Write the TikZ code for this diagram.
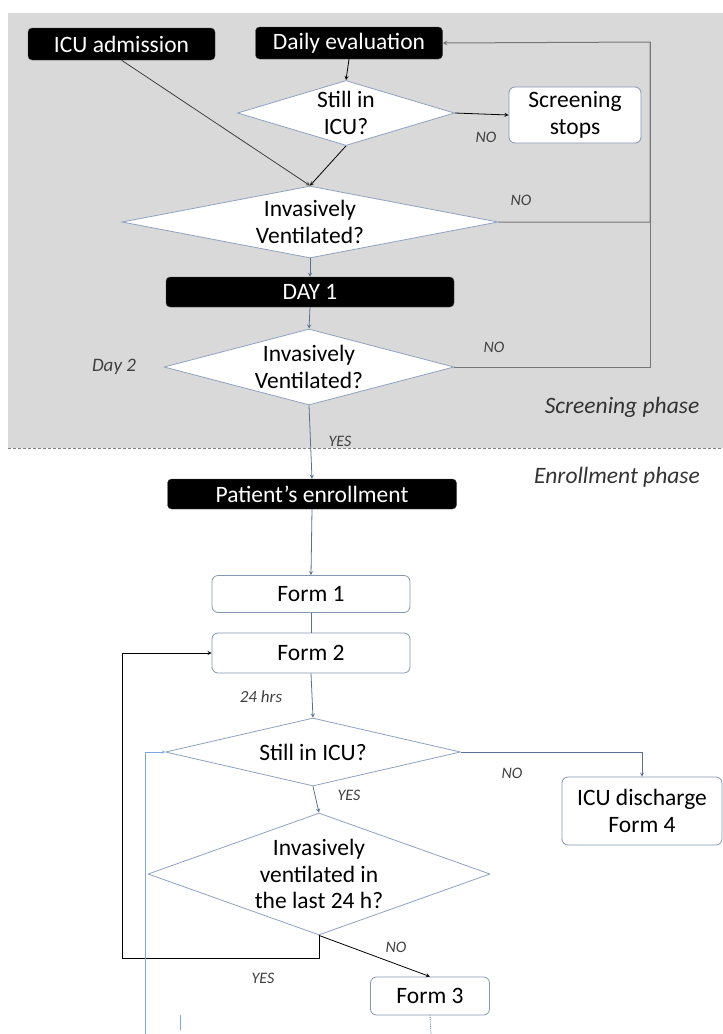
\documentclass[tikz,border=0pt]{standalone}
\usepackage{fontspec}
\setmainfont{Carlito}
\usetikzlibrary{shapes.geometric, arrows, positioning}
\definecolor{panelgrey}{RGB}{217,217,217}
\definecolor{edgeblue}{RGB}{142,162,192}
\definecolor{boxblue}{RGB}{132,151,176}
\definecolor{flowblue}{RGB}{91,112,144}
\definecolor{loopgrey}{RGB}{118,118,118}
\definecolor{tickblue}{RGB}{125,165,225}
\definecolor{labelgrey}{RGB}{64,64,64}

\begin{document}
\begin{tikzpicture}[
    x=1pt, y=-1pt,
    every node/.style={font=\fontsize{23.5}{26.5}\selectfont},
    blackbox/.style={rectangle, rounded corners=4pt, minimum height=32pt,
                     text centered, draw=gray!60!black, fill=black, text=white},
    formbox/.style={rectangle, rounded corners=6pt, align=center,
                    draw=boxblue, fill=white, line width=0.8pt},
    decision/.style={diamond, draw=edgeblue, fill=white, inner sep=-4pt,
                     align=center, line width=0.8pt},
    lbl/.style={font=\fontsize{16}{18}\selectfont\itshape, text=labelgrey},
    phaselbl/.style={font=\fontsize{23.5}{26.5}\selectfont\itshape, text=black!80},
    arrow/.style={->, >=stealth, line width=0.8pt},
    flow/.style={arrow, draw=flowblue},
    back/.style={arrow, draw=loopgrey, line width=1pt}
]
\useasboundingbox (0,0) rectangle (723,1034);

% Screening panel
\fill[panelgrey] (8,13) rectangle (723,448);
\draw[dash pattern=on 3pt off 2pt, gray] (8,448) -- (723,448);

% Screening phase
\node (admit) [blackbox, minimum width=187pt] at (121.5,44) {ICU admission};
\node (daily) [blackbox, minimum width=187pt] at (349,43) {Daily evaluation};
\node (still1) [decision, aspect=3.34, minimum width=217pt, minimum height=65pt] at (346,113) {Still in\\ICU?};
\node (stops) [formbox, minimum width=132pt, minimum height=56pt] at (575,115) {Screening\\stops};
\node (vent1) [decision, aspect=5.2, minimum width=376pt, minimum height=72pt] at (310,222) {Invasively\\Ventilated?};
\node (day1) [blackbox, minimum width=288pt, minimum height=30pt] at (310,292) {DAY 1};
\node (vent2) [decision, aspect=3.8, minimum width=290pt, minimum height=76pt] at (309,367) {Invasively\\Ventilated?};
\node (day2) [lbl, font=\fontsize{19}{22}\selectfont\itshape] at (114,367) {Day 2};
\node (scrphase) [phaselbl] at (622,407) {Screening phase};
\coordinate (fb) at (650,42);

% Enrollment phase
\node (enrphase) [phaselbl] at (617,477) {Enrollment phase};
\node (enrol) [blackbox, minimum width=289pt, minimum height=30pt] at (312,494) {Patient’s enrollment};
\node (form1) [formbox, minimum width=198pt, minimum height=37pt] at (311,594) {Form 1};
\node (form2) [formbox, minimum width=198pt, minimum height=40pt] at (311,653) {Form 2};
\node (still2) [decision, aspect=4.34, minimum width=295pt, minimum height=68pt] at (313,752) {Still in ICU?};
\node (disch) [formbox, minimum width=160pt, minimum height=68pt] at (642,811) {ICU discharge\\Form 4};
\node (vent3) [decision, aspect=2.8, minimum width=342pt, minimum height=122pt] at (319,874) {Invasively\\ventilated in\\the last 24 h?};
\node (form3) [formbox, minimum width=119pt, minimum height=38pt] at (430,996) {Form 3};
\coordinate (loopyes) at (122,958);
\coordinate (loopicu) at (145,1034);
\coordinate (f3end) at (431,1034);

% Labels
\node (no1) [lbl] at (486,137) {NO};
\node (no2) [lbl] at (521,200) {NO};
\node (no3) [lbl] at (494,347) {NO};
\node (yes1) [lbl] at (340,441) {YES};
\node (hrs) [lbl, font=\fontsize{17}{20}\selectfont\itshape] at (261,697) {24 hrs};
\node (no4) [lbl] at (512,773) {NO};
\node (yes2) [lbl] at (349,795) {YES};
\node (no5) [lbl] at (396,947) {NO};
\node (yes3) [lbl] at (263,978) {YES};

% Arrows
\draw [arrow, draw=black!75] (admit.south) -- (vent1.north);
\draw [arrow] (daily.south) -- (still1.north);
\draw [arrow] (still1.east) -- (stops.west);
\draw [arrow] (still1.south) -- (vent1.north);
\draw [back] (vent1.east) -| (fb) -- (daily.east);
\draw [loopgrey, line width=1pt] (vent2.east) -| (fb);
\draw [flow] (vent1.south) -- (day1.north);
\draw [flow] (day1.south) -- (vent2.north);
\draw [flow] (vent2.south) -- (enrol.north);
\draw [flow] (enrol.south) -- (form1.north);
\draw [flowblue, line width=0.8pt] (form1.south) -- (form2.north);
\draw [flow] (form2.south) -- (still2.north);
\draw [flow] (still2.east) -| (disch.north);
\draw [flow] (still2.south) -- (vent3.north);
\draw [arrow] (vent3.south) |- (loopyes) |- (form2.west);
\draw [arrow] (vent3.south) -- (form3.north);
\draw [arrow, draw=tickblue, line width=0.5pt] (loopicu) |- (still2.west);
\draw [densely dotted, flowblue, line width=0.8pt] (form3.south) -- (f3end);
\draw [tickblue, line width=0.8pt] (180,1015) -- (180,1030);

\end{tikzpicture}
\end{document}
